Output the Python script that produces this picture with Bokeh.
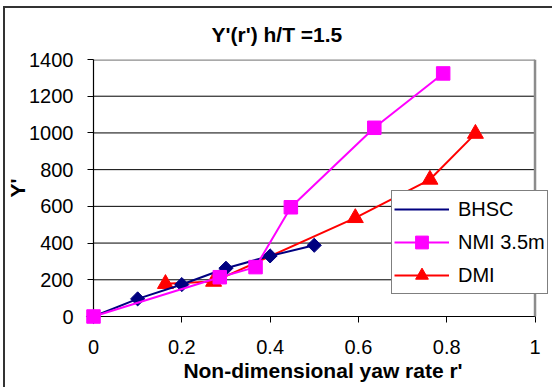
import math
from bokeh.plotting import figure
from bokeh.models import FixedTicker, Span, Legend, LegendItem, NumeralTickFormatter
from bokeh.embed import file_html
from bokeh.resources import INLINE

title_text = "Y'(r') h/T =1.5"
x_label = "Non-dimensional yaw rate r'"
y_label = "Y'"

x_ticks = [0, 0.2, 0.4, 0.6, 0.8, 1.0]
y_ticks = [0, 200, 400, 600, 800, 1000, 1200, 1400]

bhsc_name = "BHSC"
bhsc_x = [0, 0.1, 0.2, 0.3, 0.4, 0.5]
bhsc_y = [0, 96, 174, 263, 330, 388]

nmi_name = "NMI 3.5m"
nmi_x = [0, 0.286, 0.367, 0.447, 0.636, 0.792]
nmi_y = [0, 214, 269, 595, 1028, 1324]

dmi_name = "DMI"
dmi_x = [0.163, 0.272, 0.593, 0.762, 0.865]
dmi_y = [178, 190, 537, 746, 996]

FONT = "Liberation Sans"

# frame runs past x=1 so the legend can overhang the plot area as in the reference
p = figure(width=549, height=381,
           x_range=(x_ticks[0], 1.0396), y_range=(y_ticks[0], y_ticks[-1]),
           output_backend="svg", toolbar_location=None,
           min_border_left=90, min_border_right=0, min_border_top=53, min_border_bottom=71,
           margin=(6, 0, 0, 3))
p.border_fill_color = None
p.background_fill_color = None
p.styles = {"box-shadow": "inset 2px 2px 0 #333"}
p.outline_line_color = None

p.title.text = title_text
p.title.text_font = FONT
p.title.text_font_size = "21px"
p.title.text_font_style = "bold"
p.title.text_color = "black"
p.title.align = "left"
p.title.offset = 118
p.title.standoff = 28

for ax in (p.xaxis[0], p.yaxis[0]):
    ax.axis_line_color = "black"
    ax.axis_line_width = 1.2
    ax.major_tick_line_color = "black"
    ax.major_tick_in = 0
    ax.major_tick_out = 6
    ax.minor_tick_line_color = None
    ax.major_label_text_font = FONT
    ax.major_label_text_font_size = "20px"
    ax.major_label_text_color = "black"
    ax.axis_label_text_font = FONT
    ax.axis_label_text_font_size = "21px"
    ax.axis_label_text_font_style = "bold"
    ax.axis_label_text_color = "black"

p.xaxis.ticker = FixedTicker(ticks=x_ticks)
p.xaxis.bounds = (x_ticks[0], x_ticks[-1])
p.xaxis.formatter = NumeralTickFormatter(format="0.[0]")
p.xaxis.axis_label = x_label
p.xaxis.major_label_standoff = 17
p.xaxis.axis_label_standoff = 2

p.yaxis.ticker = FixedTicker(ticks=y_ticks)
p.yaxis.formatter = NumeralTickFormatter(format="0")
p.yaxis.axis_label = y_label
p.yaxis.major_label_standoff = 14
p.yaxis.axis_label_standoff = -3

p.xgrid.visible = False
p.ygrid.visible = False

grid_y = y_ticks[1:-1]
p.segment(x0=[x_ticks[0]] * len(grid_y), y0=grid_y, x1=[x_ticks[-1]] * len(grid_y), y1=grid_y,
          line_color="black", line_width=1)
p.segment(x0=[x_ticks[0]], y0=[y_ticks[-1]], x1=[x_ticks[-1]], y1=[y_ticks[-1]],
          line_color="#8c8c8c", line_width=2.5)
p.add_layout(Span(location=x_ticks[-1], dimension="height", line_color="#8c8c8c", line_width=2.5))

dmi_l = p.line(dmi_x, dmi_y, line_color="#ff0000", line_width=2)
dmi_m = p.scatter(dmi_x, dmi_y, marker="triangle", size=16, fill_color="#ff0000", line_color="#ff0000")
bhsc_l = p.line(bhsc_x, bhsc_y, line_color="#000080", line_width=2)
bhsc_m = p.scatter(bhsc_x, bhsc_y, marker="square", angle=math.pi / 4, size=10,
                   fill_color="#000080", line_color="#000080")
nmi_l = p.line(nmi_x, nmi_y, line_color="#ff00ff", line_width=2)
nmi_m = p.scatter(nmi_x, nmi_y, marker="square", size=13.5, fill_color="#ff00ff", line_color="#ff00ff")
for r in (dmi_m, bhsc_m, nmi_m, dmi_l, bhsc_l, nmi_l):
    r.level = "overlay"

# legend swatch for the diamond marker (legend ignores marker angle)
bhsc_key = p.scatter(x=[], y=[], marker="diamond", size=15, fill_color="#000080", line_color="#000080")

legend = Legend(items=[
    LegendItem(label=bhsc_name, renderers=[bhsc_l, bhsc_key]),
    LegendItem(label=nmi_name, renderers=[nmi_l, nmi_m]),
    LegendItem(label=dmi_name, renderers=[dmi_l, dmi_m]),
], location=(298, 22))
legend.label_text_font = FONT
legend.label_text_font_size = "20px"
legend.label_text_color = "black"
legend.glyph_width = 55
legend.glyph_height = 32
legend.label_height = 20
legend.label_standoff = 9
legend.spacing = 1
legend.padding = 2
legend.margin = 0
legend.border_line_color = "black"
legend.border_line_width = 1
legend.background_fill_color = "white"
legend.background_fill_alpha = 1
p.add_layout(legend, "center")

open("out.html", "w").write(file_html(p, INLINE))
